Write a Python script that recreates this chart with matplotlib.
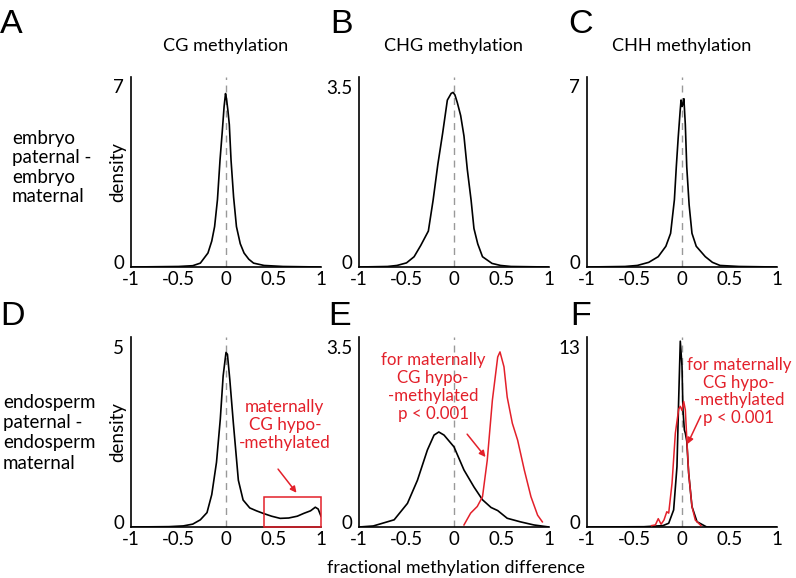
import matplotlib
matplotlib.use("Agg")
import matplotlib.pyplot as plt
import matplotlib.transforms as mtransforms
from matplotlib.patches import Rectangle

plt.rcParams['font.family'] = ['Lato', 'DejaVu Sans']

RED = '#e3202a'

# density curves
a_x = [-1, -0.5, -0.35, -0.27, -0.19, -0.15, -0.12, -0.09, -0.063, -0.04, -0.02, -0.005, 0.005, 0.02, 0.035,
       0.053, 0.08, 0.11, 0.15, 0.19, 0.24, 0.29, 0.4, 0.6, 1]
a_y = [0, 0.02, 0.05, 0.15, 0.54, 1.0, 1.56, 2.6, 4.13, 5.2, 6.2, 6.7, 6.5, 6.05, 5.5,
       4.13, 2.7, 1.56, 0.9, 0.54, 0.3, 0.15, 0.06, 0.02, 0]

b_x = [-1, -0.7, -0.6, -0.5, -0.42, -0.35, -0.27, -0.22, -0.17, -0.12, -0.07, -0.03, -0.01, 0.01, 0.035,
       0.07, 0.105, 0.14, 0.18, 0.21, 0.25, 0.3, 0.4, 0.49, 0.6, 1]
b_y = [0, 0.01, 0.03, 0.08, 0.2, 0.42, 0.7, 1.3, 2.0, 2.6, 3.25, 3.38, 3.4, 3.35, 3.2,
       2.95, 2.55, 1.9, 1.3, 0.75, 0.45, 0.2, 0.07, 0.03, 0.01, 0]

c_x = [-1, -0.6, -0.47, -0.35, -0.25, -0.17, -0.12, -0.08, -0.06, -0.04, -0.02, -0.01, 0.0, 0.01, 0.02,
       0.035, 0.05, 0.075, 0.105, 0.15, 0.245, 0.32, 0.4, 0.6, 1]
c_y = [0, 0.02, 0.06, 0.18, 0.4, 0.8, 1.3, 2.6, 3.87, 5.0, 6.0, 6.45, 6.2, 6.3, 6.5,
       5.5, 3.87, 2.4, 1.3, 0.8, 0.4, 0.18, 0.06, 0.02, 0]

d_x = [-1, -0.6, -0.45, -0.35, -0.27, -0.2, -0.15, -0.1, -0.06, -0.03, 0.0, 0.015, 0.04, 0.077, 0.13,
       0.18, 0.25, 0.32, 0.39, 0.48, 0.57, 0.66, 0.75, 0.82, 0.89, 0.94, 0.97, 1.0]
d_y = [0, 0.01, 0.03, 0.08, 0.2, 0.4, 0.9, 1.8, 3.0, 4.2, 4.85, 4.8, 4.1, 2.9, 1.3,
       0.75, 0.53, 0.45, 0.38, 0.3, 0.24, 0.25, 0.3, 0.38, 0.45, 0.55, 0.5, 0.3]

e_x = [-1, -0.85, -0.63, -0.49, -0.385, -0.28, -0.21, -0.16, -0.105, 0.0, 0.105, 0.21, 0.3, 0.39, 0.46,
       0.56, 0.7, 0.84, 1.0]
e_y = [0, 0.02, 0.14, 0.46, 0.91, 1.5, 1.79, 1.85, 1.79, 1.56, 1.11, 0.78, 0.53, 0.38, 0.32,
       0.17, 0.1, 0.04, 0]
e_red_x = [0.105, 0.175, 0.245, 0.3, 0.35, 0.404, 0.46, 0.484, 0.526, 0.56, 0.614, 0.67, 0.74, 0.81, 0.88, 0.93]
e_red_y = [0.04, 0.27, 0.4, 0.59, 1.3, 2.47, 3.31, 3.41, 3.12, 2.53, 2.02, 1.69, 1.11, 0.59, 0.23, 0.1]

f_x = [-1, -0.4, -0.2, -0.14, -0.088, -0.053, -0.035, -0.018, 0.0, 0.01, 0.025, 0.035, 0.05, 0.07, 0.105,
       0.158, 0.26, 1]
f_y = [0, 0.02, 0.1, 0.27, 1.23, 4.35, 9.2, 13.4, 11.6, 8.45, 7.0, 6.77, 6.2, 3.9, 1.47,
       0.38, 0.0, 0]
f_red_x = [-0.32, -0.28, -0.25, -0.22, -0.19, -0.16, -0.14, -0.105, -0.07, -0.035, -0.018, 0.0, 0.018, 0.035,
           0.053, 0.07, 0.105, 0.14, 0.2]
f_red_y = [0.1, 0.15, 0.6, 0.2, 0.5, 1.1, 1.0, 3.15, 6.77, 8.5, 8.7, 8.4, 9.05, 8.45,
           6.04, 3.9, 1.47, 0.5, 0.1]

titles = ['CG methylation', 'CHG methylation', 'CHH methylation']
letters = ['A', 'B', 'C', 'D', 'E', 'F']
ytops = [7, 3.5, 7, 5, 3.5, 13]
ylims = [7.34, 3.70, 7.34, 5.28, 3.70, 13.7]
xticks = [-1, -0.5, 0, 0.5, 1]
xticklabels = ['-1', '-0.5', '0', '0.5', '1']

fig = plt.figure(figsize=(7.96, 5.78), dpi=100)

lefts = [131, 359, 587]
bottoms = [267, 527]
axes = []
for r in range(2):
    for c in range(3):
        ax = fig.add_axes([lefts[c] / 796, 1 - bottoms[r] / 578, 190 / 796, 190 / 578])
        axes.append(ax)

curves = [(a_x, a_y), (b_x, b_y), (c_x, c_y), (d_x, d_y), (e_x, e_y), (f_x, f_y)]
lift = mtransforms.ScaledTranslation(0, 5 / 100, fig.dpi_scale_trans)

for i, ax in enumerate(axes):
    ax.set_xlim(-1, 1)
    ax.set_ylim(0, ylims[i])
    ax.axvline(0, color='#999999', lw=1, ls=(0, (5, 4)), zorder=1)
    x, y = curves[i]
    ax.plot(x, y, color='black', lw=1.2, zorder=3)
    for s in ['top', 'right']:
        ax.spines[s].set_visible(False)
    for s in ['left', 'bottom']:
        ax.spines[s].set_linewidth(1.2)
    ax.set_xticks(xticks)
    ax.set_xticklabels(xticklabels)
    ax.set_xticks([-1, 1], minor=True)
    ax.set_yticks([0, ytops[i]])
    ax.set_yticklabels(['0', str(ytops[i])])
    ax.tick_params(axis='both', which='major', length=0, labelsize=13.5)
    ax.tick_params(axis='x', which='major', pad=3)
    ax.tick_params(axis='y', which='major', pad=5)
    ax.tick_params(axis='x', which='minor', length=4, width=1.2)
    ax.patch.set_alpha(0)
    zero_lab = ax.get_yticklabels()[0]
    zero_lab.set_transform(zero_lab.get_transform() + lift)

# y labels
for r in range(2):
    fig.text(118 / 796, 1 - (bottoms[r] - 95) / 578, 'density', fontsize=13.5, rotation=90,
             ha='center', va='center')

# red overlays
axes[4].plot(e_red_x, e_red_y, color=RED, lw=1.1, zorder=4)
axes[5].plot(f_red_x, f_red_y, color=RED, lw=1.1, zorder=4)

# panel D box and label
axes[3].add_patch(Rectangle((0.4, 0), 0.6, 0.84, fill=False, edgecolor=RED, lw=1.1, clip_on=False, zorder=5))
axes[3].text(0.62, 2.83, 'maternally\nCG hypo-\n-methylated', color=RED, fontsize=12.3,
             ha='center', va='center', linespacing=1.15)
axes[3].annotate('', xy=(0.76, 0.89), xytext=(0.53, 1.67),
                 arrowprops=dict(arrowstyle='-|>', color=RED, lw=1.1, mutation_scale=9))

note = 'for maternally\nCG hypo-\n-methylated\np < 0.001'
axes[4].text(-0.22, 2.73, note, color=RED, fontsize=12.2, ha='center', va='center', linespacing=1.15)
axes[4].annotate('', xy=(0.35, 1.32), xytext=(0.12, 1.85),
                 arrowprops=dict(arrowstyle='-|>', color=RED, lw=1.1, mutation_scale=9))
axes[5].text(0.6, 9.77, note, color=RED, fontsize=12.2, ha='center', va='center', linespacing=1.15,
             clip_on=False)
axes[5].annotate('', xy=(0.045, 5.8), xytext=(0.21, 8.2),
                 arrowprops=dict(arrowstyle='-|>', color=RED, lw=1.1, mutation_scale=9))

# titles
for c in range(3):
    fig.text((lefts[c] + 95) / 796, 1 - 50.7 / 578, titles[c], fontsize=13.1, ha='center', va='baseline')

# panel letters
letter_pos = [(0, 33), (330, 33), (568, 33), (0, 325), (328, 325), (570, 325)]
for L, (px, py) in zip(letters, letter_pos):
    fig.text(px / 796, 1 - py / 578, L, fontsize=24.5, ha='left', va='baseline', family='Liberation Sans')

fig.text(12 / 796, 1 - 167.5 / 578, 'embryo\npaternal -\nembryo\nmaternal', fontsize=13.5,
         ha='left', va='center', linespacing=1.16)
fig.text(3 / 796, 1 - 432.8 / 578, 'endosperm\npaternal -\nendosperm\nmaternal', fontsize=13.5,
         ha='left', va='center', linespacing=1.24)

fig.text(455.8 / 796, 1 - 573.3 / 578, 'fractional methylation difference', fontsize=12.9,
         ha='center', va='baseline')

fig.savefig('out.png', dpi=100)
